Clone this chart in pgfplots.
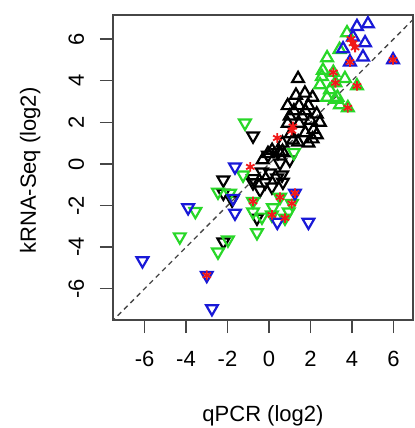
\documentclass[border=0pt]{standalone}
\usepackage{fontspec}
\setmainfont{Liberation Sans}
\usepackage{pgfplots}
\pgfplotsset{compat=1.18}

\definecolor{rgreen}{RGB}{40,215,40}
\definecolor{rblue}{RGB}{25,25,215}
\definecolor{rred}{RGB}{240,25,25}
\definecolor{frame}{RGB}{70,70,70}

\begin{document}
\begin{tikzpicture}
\useasboundingbox (-113bp,-108bp) rectangle (302bp,320bp);
\begin{axis}[
  at={(0,0)}, anchor=south west,
  scale only axis, width=300bp, height=305bp,
  xmin=-7.52, xmax=6.94, ymin=-7.5, ymax=7.16,
  font=\fontsize{22bp}{26bp}\selectfont,
  xtick={-6,-4,-2,0,2,4,6}, xticklabels={-6,-4,-2,0,2,4,6},
  ytick={-6,-4,-2,0,2,4,6}, yticklabels={-6,-4,-2,0,2,4,6},
  xtick pos=bottom, ytick pos=left,
  tick align=outside, major tick length=13bp,
  axis line style={draw=frame, line width=1.4bp},
  every tick/.style={draw=frame, line width=1.4bp},
  xticklabel shift=33bp, xticklabel style={anchor=base},
  yticklabel shift=16bp, yticklabel style={rotate=90, anchor=base},
  xlabel={qPCR (log2)}, ylabel={kRNA-Seq (log2)},
  every axis x label/.style={at={(rel axis cs:0.5,0)}, yshift=-101bp, anchor=base},
  every axis y label/.style={at={(rel axis cs:0,0.49)}, xshift=-77bp, rotate=90, anchor=base},
  tri/.style={only marks, mark=triangle, mark size=6.8bp, line width=2.2bp},
  down/.style={mark options={rotate=180}},
]
% diagonal y = x
\addplot[draw=frame, line width=1.3bp, dash pattern=on 5bp off 4bp] coordinates {(-7.6,-7.6) (7.2,7.2)};

% black, up
\addplot[tri, black] coordinates {
(1.4,4.1)(1.3,3.3)(1.73,3.4)(2.1,3.2)(0.9,2.8)(1.45,2.8)(1.9,2.8)(2.3,2.4)
(1.0,2.3)(1.6,2.3)(0.9,1.95)(1.45,1.95)(2.0,2.1)(2.15,1.65)(1.75,1.5)(2.3,1.4)
(1.4,1.05)(1.9,1.0)(0.65,1.0)(1.15,1.15)(0.15,0.65)(0.65,0.6)(-0.05,0.5)(0.5,0.55)(-0.3,0.2)
(1.2,2.55)(1.75,2.55)(2.45,2.0)(1.05,1.45)(2.1,1.2)};
% black, down
\addplot[tri, down, black] coordinates {
(-0.77,1.35)(-2.2,-0.77)(-2.2,-1.4)(-1.78,-1.73)(-2.2,-3.75)(-0.77,-0.7)(-0.34,-0.38)
(0.05,-0.43)(-0.19,-0.9)(0.39,-0.67)(0.14,-1.1)(0.67,-0.87)(1.0,0.2)(0.53,0.05)
(-0.05,0.43)(0.43,0.55)(-0.43,-1.25)(-0.58,-2.6)(0.63,-0.53)(-0.77,-0.9)};
% green, up
\addplot[tri, rgreen] coordinates {
(3.76,6.3)(3.4,5.5)(2.8,5.1)(3.1,4.4)(3.2,3.9)(2.55,4.2)(3.66,4.1)(4.24,3.75)
(2.46,3.8)(2.94,3.56)(2.8,3.2)(3.18,3.1)(3.42,2.84)(3.8,2.7)(2.6,4.5)(3.3,3.2)};
% green, down
\addplot[tri, down, rgreen] coordinates {
(-1.16,1.97)(-3.55,-2.28)(-4.3,-3.5)(-2.46,-1.35)(-1.98,-3.65)(-2.46,-4.23)(-0.58,-3.3)
(-0.77,-2.3)(-0.34,-2.55)(0.19,-2.1)(0.77,-2.6)(0.14,-2.45)(1.1,-1.9)(0.53,-1.6)
(-0.77,-1.8)(-1.25,-0.53)(-1.88,-1.4)(0.95,-2.3)(1.2,0.55)};
% blue, up
\addplot[tri, rblue] coordinates {
(4.24,6.6)(4.77,6.73)(4.63,5.82)(3.57,5.53)(4.05,6.1)(4.53,5.14)(3.9,4.9)(5.98,5.0)};
% blue, down
\addplot[tri, down, rblue] coordinates {
(-1.64,-0.14)(-3.9,-2.1)(-6.1,-4.65)(-3.0,-5.35)(-2.75,-6.95)(-1.64,-2.36)
(-1.73,-1.65)(1.25,-1.4)(1.9,-2.8)(0.4,-2.8)};
% red asterisks
\addplot[only marks, mark=asterisk, mark size=4.8bp, line width=1.8bp, rred] coordinates {
(4.05,5.8)(3.95,6.0)(4.15,5.6)(3.9,4.9)(5.98,5.0)(3.1,4.4)(3.2,3.9)(4.24,3.75)(3.8,2.7)
(1.1,1.6)(1.15,1.8)(0.4,1.25)(-0.9,-0.14)(-3.0,-5.35)(1.25,-1.4)(1.1,-1.9)
(0.53,-1.6)(0.77,-2.6)(0.14,-2.45)(-0.77,-1.8)};
\end{axis}
\end{tikzpicture}
\end{document}
